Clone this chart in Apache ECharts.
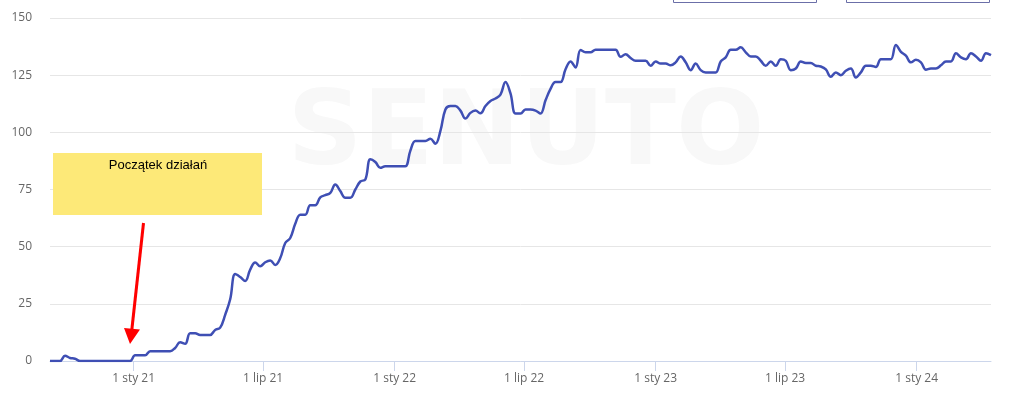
<!DOCTYPE html>
<html>
<head>
<meta charset="utf-8">
<script src="https://cdn.jsdelivr.net/npm/echarts@6/dist/echarts.min.js"></script>
<style>
  html, body { margin: 0; padding: 0; background: #fff; }
  #chart { width: 1024px; height: 401px; }
</style>
</head>
<body>
<div id="chart"></div>
<script>
// weekly dates
const weeks = [
  '2020-09-06','2020-09-13','2020-09-20','2020-09-27','2020-10-04','2020-10-11','2020-10-18','2020-10-25',
  '2020-11-01','2020-11-08','2020-11-15','2020-11-22','2020-11-29','2020-12-06','2020-12-13','2020-12-20','2020-12-27',
  '2021-01-03','2021-01-10','2021-01-17','2021-01-24','2021-01-31','2021-02-07','2021-02-14','2021-02-21','2021-02-28',
  '2021-03-07','2021-03-14','2021-03-21','2021-03-28','2021-04-04','2021-04-11','2021-04-18','2021-04-25',
  '2021-05-02','2021-05-09','2021-05-16','2021-05-23','2021-05-30','2021-06-06','2021-06-13','2021-06-20','2021-06-27',
  '2021-07-04','2021-07-11','2021-07-18','2021-07-25','2021-08-01','2021-08-08','2021-08-15','2021-08-22','2021-08-29',
  '2021-09-05','2021-09-12','2021-09-19','2021-09-26','2021-10-03','2021-10-10','2021-10-17','2021-10-24','2021-10-31',
  '2021-11-07','2021-11-14','2021-11-21','2021-11-28','2021-12-05','2021-12-12','2021-12-19','2021-12-26',
  '2022-01-02','2022-01-09','2022-01-16','2022-01-23','2022-01-30','2022-02-06','2022-02-13','2022-02-20','2022-02-27',
  '2022-03-06','2022-03-13','2022-03-20','2022-03-27','2022-04-03','2022-04-10','2022-04-17','2022-04-24',
  '2022-05-01','2022-05-08','2022-05-15','2022-05-22','2022-05-29','2022-06-05','2022-06-12','2022-06-19','2022-06-26',
  '2022-07-03','2022-07-10','2022-07-17','2022-07-24','2022-07-31','2022-08-07','2022-08-14','2022-08-21','2022-08-28',
  '2022-09-04','2022-09-11','2022-09-18','2022-09-25','2022-10-02','2022-10-09','2022-10-16','2022-10-23','2022-10-30',
  '2022-11-06','2022-11-13','2022-11-20','2022-11-27','2022-12-04','2022-12-11','2022-12-18','2022-12-25',
  '2023-01-01','2023-01-08','2023-01-15','2023-01-22','2023-01-29','2023-02-05','2023-02-12','2023-02-19','2023-02-26',
  '2023-03-05','2023-03-12','2023-03-19','2023-03-26','2023-04-02','2023-04-09','2023-04-16','2023-04-23','2023-04-30',
  '2023-05-07','2023-05-14','2023-05-21','2023-05-28','2023-06-04','2023-06-11','2023-06-18','2023-06-25',
  '2023-07-02','2023-07-09','2023-07-16','2023-07-23','2023-07-30','2023-08-06','2023-08-13','2023-08-20','2023-08-27',
  '2023-09-03','2023-09-10','2023-09-17','2023-09-24','2023-10-01','2023-10-08','2023-10-15','2023-10-22','2023-10-29',
  '2023-11-05','2023-11-12','2023-11-19','2023-11-26','2023-12-03','2023-12-10','2023-12-17','2023-12-24','2023-12-31',
  '2024-01-07','2024-01-14','2024-01-21','2024-01-28','2024-02-04','2024-02-11','2024-02-18','2024-02-25',
  '2024-03-03','2024-03-10','2024-03-17','2024-03-24','2024-03-31','2024-04-07','2024-04-14'
];

const visibility = [
  0, 0, 0, 2.3, 1.3, 1, 0, 0, 0, 0,
  0, 0, 0, 0, 0, 0, 0, 2.5, 2.5, 2.5,
  4.3, 4.3, 4.3, 4.3, 4.3, 5.7, 8.2, 7.5, 12.1, 12.1,
  11.4, 11.4, 11.4, 13.6, 14.6, 20.2, 27, 38, 36.7, 35,
  40, 43.1, 41.4, 43.2, 44, 42, 45, 51.6, 53.8, 60,
  64, 64, 68.1, 68.1, 71.6, 72.5, 73.5, 77.2, 74.3, 71.4,
  71.4, 75, 78.5, 79.4, 88.2, 87, 84.5, 85.2, 85.2, 85.2,
  85.2, 85.2, 92, 96.2, 96.2, 96.2, 97.2, 95, 100.6, 110,
  111.5, 111.5, 109.5, 106, 108.5, 109.5, 108.3, 111.5, 113.7, 114.8,
  116.5, 122, 117, 108.2, 108.2, 110, 110, 109.5, 108.2, 114,
  119, 122, 122, 127.6, 131, 128.4, 136, 135, 135, 136.1,
  136.1, 136.1, 136.1, 136.1, 133, 134.2, 132.5, 131.3, 131.3, 131.3,
  129.1, 131, 130.1, 130.1, 129.3, 130.6, 133.2, 130.6, 127.2, 130.1,
  127.2, 126.2, 126.2, 126.2, 131, 132.8, 136.1, 136.1, 137.2, 135,
  133.2, 133.2, 131.3, 129.1, 131, 129.1, 132, 131.3, 127.2, 127.9,
  131, 130.3, 130.3, 129.1, 128.8, 127.5, 124.3, 126.2, 125, 126.9,
  127.9, 124, 126.2, 129.1, 129.1, 128.6, 132, 132, 132, 138.2,
  135.2, 133.5, 130.6, 131.7, 130.6, 127.4, 127.9, 127.9, 129.3, 131,
  131, 134.6, 132.8, 132, 134.6, 133.2, 131.3, 134.6, 133.8
];

const tickDates = ['2021-01-01', '2021-07-01', '2022-01-01', '2022-07-01', '2023-01-01', '2023-07-01', '2024-01-01'];
const tickLabels = ['1 sty 21', '1 lip 21', '1 sty 22', '1 lip 22', '1 sty 23', '1 lip 23', '1 sty 24'];

const note = 'Początek działań';

const toTime = (d) => Date.parse(d + 'T00:00:00Z');
const tickTimes = tickDates.map(toTime);

const chart = echarts.init(document.getElementById('chart'));

chart.setOption({
  animation: false,
  backgroundColor: '#fff',
  grid: { left: 50, right: 33, top: 18, bottom: 40 },
  xAxis: {
    type: 'value',
    min: toTime(weeks[0]),
    max: toTime(weeks[weeks.length - 1]),
    axisLine: { show: true, onZero: false, lineStyle: { color: '#ccd6eb', width: 1 } },
    axisTick: { show: true, length: 10, lineStyle: { color: '#ccd6eb' }, customValues: tickTimes },
    splitLine: { show: false },
    axisLabel: {
      customValues: tickTimes,
      margin: 12,
      color: '#666',
      fontSize: 12,
      fontFamily: 'Open Sans',
      formatter: (v) => {
        const i = tickTimes.indexOf(+v);
        return i >= 0 ? tickLabels[i] : '';
      }
    }
  },
  yAxis: {
    type: 'value',
    min: 0,
    max: 150,
    interval: 25,
    axisLine: { show: false },
    axisTick: { show: false },
    splitLine: { lineStyle: { color: '#e6e6e6' } },
    axisLabel: { margin: 18, color: '#666', fontSize: 12, fontFamily: 'Open Sans' }
  },
  series: [{
    type: 'line',
    data: weeks.map((d, i) => [toTime(d), visibility[i]]),
    smooth: 0.4,
    showSymbol: false,
    lineStyle: { color: '#3f4fb4', width: 2.5 },
    z: 3
  }],
  graphic: [
    // watermark
    {
      type: 'text', z: -10, x: 526, y: 137,
      style: {
        text: 'SENUTO', fill: '#f8f8f8', font: 'bold 104px "DejaVu Sans"',
        align: 'center', verticalAlign: 'middle'
      }
    },
    // cut-off buttons at top
    { type: 'rect', shape: { x: 673.5, y: -20, width: 143, height: 22.5 }, style: { fill: 'none', stroke: '#6b6fa8', lineWidth: 1 } },
    { type: 'rect', shape: { x: 846.5, y: -20, width: 143, height: 22.5 }, style: { fill: 'none', stroke: '#6b6fa8', lineWidth: 1 } },
    // annotation box
    { type: 'rect', z: 5, shape: { x: 53, y: 153, width: 209, height: 62 }, style: { fill: '#fde978' } },
    {
      type: 'text', z: 6, x: 158, y: 165,
      style: { text: note, fill: '#000', font: '13px "Liberation Sans"', align: 'center', verticalAlign: 'middle' }
    },
    // arrow
    { type: 'line', z: 6, shape: { x1: 143.5, y1: 223, x2: 131.8, y2: 330 }, style: { stroke: '#ff0000', lineWidth: 3 } },
    { type: 'polygon', z: 6, shape: { points: [[130, 344], [124, 328], [140, 329.5]] }, style: { fill: '#ff0000' } }
  ]
});
</script>
</body>
</html>
